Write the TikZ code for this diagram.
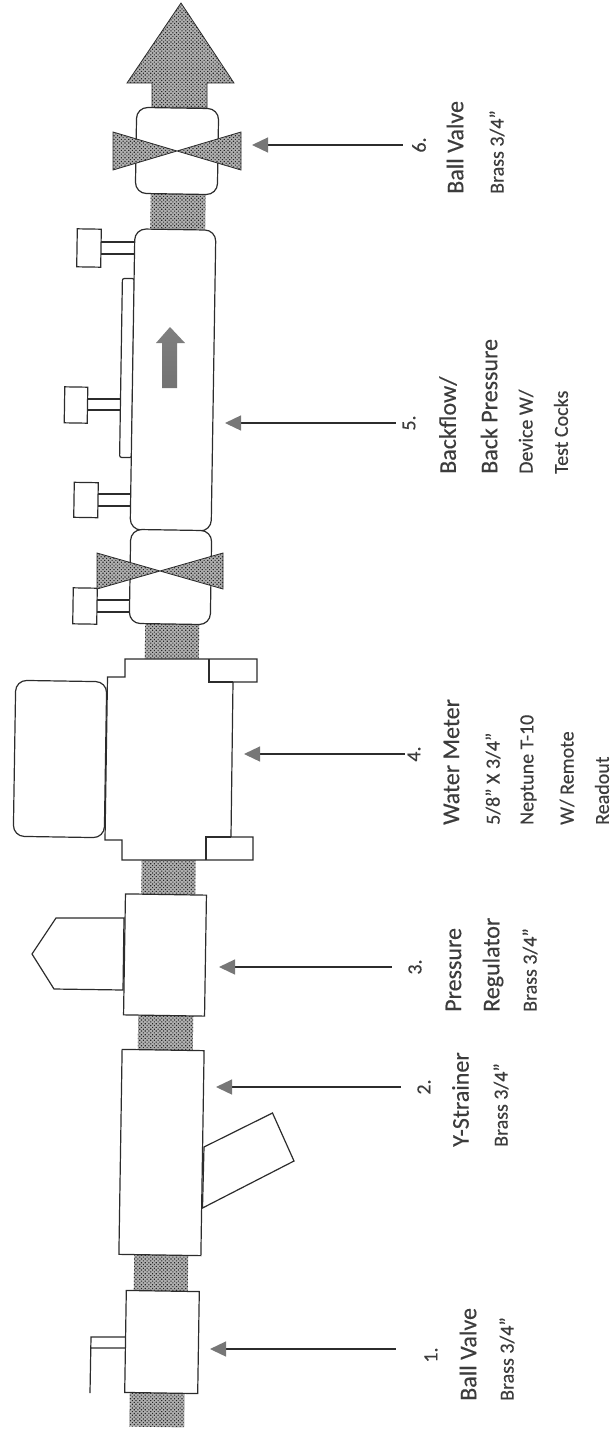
\documentclass[tikz,border=0pt]{standalone}
\usepackage{fontspec}
\setmainfont{Carlito}[FakeBold=0.35]
\usetikzlibrary{arrows.meta,patterns.meta}
\definecolor{inkgray}{HTML}{2C2C2C}
\definecolor{labelgray}{HTML}{3C3C3C}
\definecolor{stipple}{HTML}{B0B0B0}
\definecolor{headgray}{HTML}{777777}
\tikzset{
  outline/.style={draw=inkgray, fill=white, line width=1.2pt},
  part/.style={outline, inner sep=0pt, rotate=-0.9},
  roundpart/.style={part, rounded corners=11pt},
  pipe/.style={inner sep=0pt, rotate=-0.9, preaction={fill=stipple}, pattern={Dots[distance=2.6pt,radius=0.8pt,angle=45]}, pattern color=black!85},
  stippled/.style={draw=inkgray, line width=0.8pt, preaction={fill=stipple}, pattern={Dots[distance=2.6pt,radius=0.8pt,angle=45]}, pattern color=black!85},
  thinline/.style={draw=inkgray, line width=1.2pt},
  leader/.style={draw=inkgray, line width=1.3pt, -{Triangle[length=16pt,width=15pt,color=headgray]}},
  number/.style={rotate=90, font=\fontsize{20}{20}\selectfont, text=labelgray, minimum height=16pt, inner sep=0pt},
  heading/.style={rotate=90, anchor=west, font=\fontsize{24}{24}\selectfont, text=labelgray, inner sep=0pt},
  subhead/.style={rotate=90, anchor=west, font=\fontsize{20}{20}\selectfont, text=labelgray, inner sep=0pt}
}
\begin{document}
\begin{tikzpicture}[x=1pt, y=-1pt]
    \useasboundingbox (0,0) rectangle (613,1430);

    % Outlet arrow
    \draw[stippled] (152,108) -- (152,83) -- (127,83) -- (181,3) -- (234,83) -- (207,83) -- (207,108) -- cycle;

    % Ball valve 6
    \node (pipesix) at (178,211) [pipe, minimum width=55pt, minimum height=36pt] {};
    \node (valvesix) at (177,151) [roundpart, minimum width=82pt, minimum height=86pt] {};
    \draw[stippled] (113,132) -- (241,170) -- (241,132) -- (113,170) -- cycle;
    \coordinate (t6) at (252,145);
    \node (n6) at (419,145) [number] {6.};
    \draw[leader, shorten <=8pt] (n6) -- (t6);
    \node (name6a) at (455,194) [heading] {Ball Valve};
    \node (name6b) at (497,194) [subhead] {Brass 3/4”};

    % Backflow device 5
    \node (pipefive) at (172,642) [pipe, minimum width=54pt, minimum height=36pt] {};
    \node (plate) at (127,368) [part, rounded corners=2pt, minimum width=12pt, minimum height=179pt] {};
    \node (backflow) at (173,380) [roundpart, minimum width=81pt, minimum height=301pt] {};
    \node (cocka) at (89,248) [part, minimum width=24pt, minimum height=38pt] {};
    \node (cockb) at (76,405) [part, minimum width=23pt, minimum height=36pt] {};
    \node (cockc) at (86,500) [part, minimum width=24pt, minimum height=35pt] {};
    \draw[thinline] (101,242) -- (134,242) (101,254) -- (134,254);
    \draw[thinline] (87,399) -- (121,399) (87,410) -- (121,410);
    \draw[thinline] (98,494) -- (130,494) (98,506) -- (130,506);
    \path[top color=black!50, middle color=black!78, bottom color=black!55] (170,327) -- (185,343) -- (177,343) -- (177,388) -- (162,388) -- (162,343) -- (156,343) -- cycle;
    \coordinate (t5) at (225,423);
    \node (n5) at (409,423) [number] {5.};
    \draw[leader, shorten <=5pt] (n5) -- (t5);
    \node (name5a) at (448,474) [heading] {Backflow/};
    \node (name5b) at (489,474) [heading] {Back Pressure};
    \node (name5c) at (526,474) [subhead] {Device W/};
    \node (name5d) at (561,474) [subhead] {Test Cocks};

    % Ball valve with test cock
    \node (valvefive) at (170.5,577) [roundpart, minimum width=81pt, minimum height=94pt] {};
    \node (cockd) at (85,606) [part, minimum width=24pt, minimum height=36pt] {};
    \draw[thinline] (97,600) -- (130,600) (97,612) -- (130,612);
    \draw[stippled] (97,553) -- (223,589) -- (223,553) -- (97,589) -- cycle;

    % Water meter 4
    \node (pipefour) at (168.5,877) [pipe, minimum width=54pt, minimum height=35pt] {};
    \node (display) at (60,759) [roundpart, minimum width=91pt, minimum height=156pt] {};
    \draw[outline] (125,659) -- (257,659) -- (257,682) -- (233,682) -- (231,837) -- (253,837) -- (253,860) -- (122,860) -- (122,840) -- (105,840) -- (107.5,677) -- (125,677) -- cycle;
    \draw[thinline] (209,659) -- (209,682) -- (233,682) (206,860) -- (206,837) -- (231,837);
    \coordinate (t4) at (244,754);
    \node (n4) at (414,754) [number] {4.};
    \draw[leader, shorten <=1pt] (n4) -- (t4);
    \node (name4a) at (451.5,825) [heading] {Water Meter};
    \node (name4b) at (493,825) [subhead] {5/8” X 3/4”};
    \node (name4c) at (528.5,825) [subhead] {Neptune T-10};
    \node (name4d) at (567,825) [subhead] {W/ Remote};
    \node (name4e) at (602,825) [subhead] {Readout};

    % Pressure regulator 3
    \node (pipethree) at (165.5,1033) [pipe, minimum width=55pt, minimum height=36pt] {};
    \draw[outline] (124,918) -- (56,918) -- (32,954) -- (54,989) -- (123,990) -- cycle;
    \node (regulator) at (165,955) [part, minimum width=81pt, minimum height=121pt] {};
    \coordinate (t3) at (219,967);
    \node (n3) at (415,967) [number] {3.};
    \draw[leader, shorten <=15pt] (n3) -- (t3);
    \node (name3a) at (453.5,1012) [heading] {Pressure};
    \node (name3b) at (493,1012) [heading] {Regulator};
    \node (name3c) at (530,1012) [subhead] {Brass 3/4”};

    % Y-strainer 2
    \node (pipetwo) at (161,1273) [pipe, minimum width=54pt, minimum height=36pt] {};
    \draw[outline] (204,1147) -- (272.5,1113) -- (294,1161) -- (202.5,1208) -- cycle;
    \node (strainer) at (161.5,1152.5) [part, minimum width=82pt, minimum height=205pt] {};
    \coordinate (t2) at (216,1087);
    \node (n2) at (424,1087) [number] {2.};
    \draw[leader, shorten <=15pt] (n2) -- (t2);
    \node (name2a) at (460.5,1147) [heading] {Y-Strainer};
    \node (name2b) at (501,1147) [subhead] {Brass 3/4”};

    % Ball valve 1
    \node (pipeone) at (157,1410) [pipe, minimum width=55pt, minimum height=34pt] {};
    \draw[thinline] (125,1337) -- (91,1337) -- (90,1393) (91,1348) -- (125,1348);
    \node (valveone) at (162,1342) [part, minimum width=73pt, minimum height=102pt] {};
    \coordinate (t1) at (210,1349);
    \node (n1) at (431,1355) [number] {1.};
    \draw[leader, shorten <=27pt] (n1.north |- t1) -- (t1);
    \node (name1a) at (468,1401) [heading] {Ball Valve};
    \node (name1b) at (507,1401) [subhead] {Brass 3/4”};
  \end{tikzpicture}
\end{document}
